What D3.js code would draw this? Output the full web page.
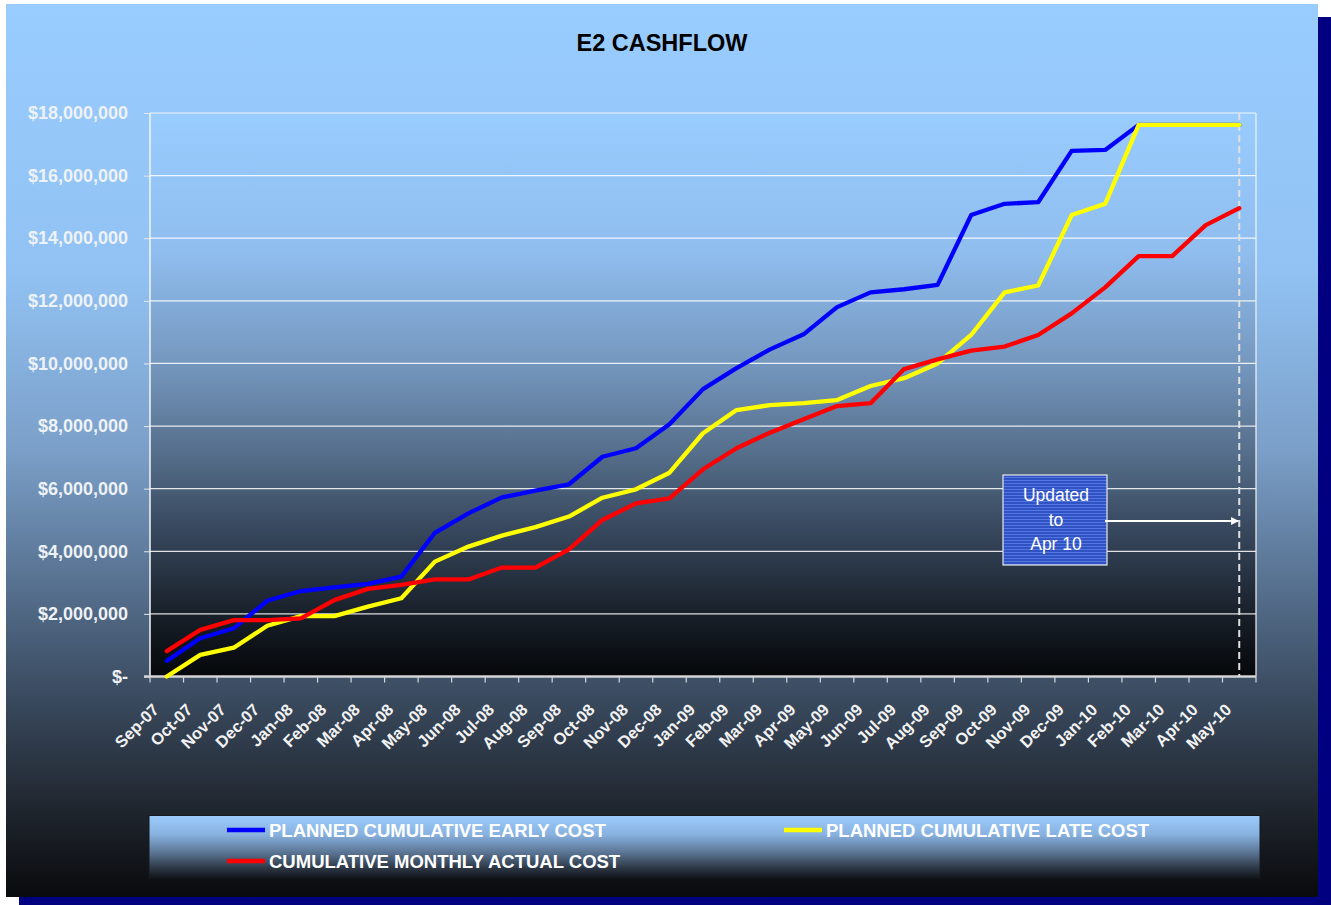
<!DOCTYPE html>
<html>
<head>
<meta charset="utf-8">
<script src="https://cdn.jsdelivr.net/npm/d3@7"></script>
<style>
  body { margin: 0; background: #ffffff; }
  svg { display: block; font-family: "Liberation Sans", Arial, sans-serif; }
</style>
</head>
<body>
<svg id="chart" width="1331" height="905"></svg>
<script>
// chart data
var months = ["Sep-07","Oct-07","Nov-07","Dec-07","Jan-08","Feb-08","Mar-08","Apr-08","May-08","Jun-08",
              "Jul-08","Aug-08","Sep-08","Oct-08","Nov-08","Dec-08","Jan-09","Feb-09","Mar-09","Apr-09",
              "May-09","Jun-09","Jul-09","Aug-09","Sep-09","Oct-09","Nov-09","Dec-09","Jan-10","Feb-10",
              "Mar-10","Apr-10","May-10"];

var earlyCost = [500000,1220000,1540000,2420000,2730000,2850000,2960000,3190000,4590000,5210000,
                 5720000,5940000,6140000,7020000,7290000,8060000,9180000,9850000,10450000,10930000,
                 11800000,12270000,12370000,12510000,14740000,15100000,15150000,16790000,16820000,17620000,
                 17620000,17620000,17620000];

var lateCost = [0,690000,920000,1620000,1930000,1930000,2230000,2500000,3670000,4150000,
                4500000,4770000,5110000,5710000,5980000,6510000,7770000,8510000,8670000,8730000,
                8830000,9280000,9530000,10000000,10910000,12270000,12490000,14740000,15100000,17620000,
                17620000,17620000,17620000];

var actualCost = [810000,1490000,1800000,1800000,1860000,2440000,2800000,2930000,3100000,3100000,
                  3480000,3480000,4060000,5000000,5530000,5690000,6620000,7290000,7790000,8220000,
                  8640000,8730000,9820000,10130000,10410000,10540000,10910000,11600000,12430000,13430000,
                  13430000,14420000,14960000];

var yTicks = [0,2000000,4000000,6000000,8000000,10000000,12000000,14000000,16000000,18000000];

var seriesNames = ["PLANNED CUMULATIVE EARLY COST","PLANNED CUMULATIVE LATE COST","CUMULATIVE MONTHLY ACTUAL COST"];
var seriesColors = ["#0000ff","#ffff00","#ff0000"];
var updatedMonth = "May-10";

var svg = d3.select("#chart");
var defs = svg.append("defs");

// gradients for chart area, plot area and legend
function addGradient(id, stops) {
  var g = defs.append("linearGradient").attr("id", id)
    .attr("x1", 0).attr("y1", 0).attr("x2", 0).attr("y2", 1);
  stops.forEach(function(s) {
    g.append("stop").attr("offset", s[0]).attr("stop-color", s[1]);
  });
}
addGradient("bgGrad", [[0,"#99ccff"],[0.3,"#91c2f3"],[0.5,"#7b9fc8"],[0.62,"#5e7a9b"],[0.76,"#3d4f65"],[0.9,"#20262f"],[1,"#090a0d"]]);
addGradient("plotGrad", [[0,"#99ccff"],[0.25,"#8fbdee"],[0.45,"#7496bd"],[0.6,"#566f8c"],[0.75,"#35455a"],[0.88,"#1a222c"],[1,"#05070a"]]);
addGradient("legendGrad", [[0,"#9bcbfb"],[0.3,"#88b2e0"],[0.6,"#5a7392"],[0.85,"#2b3542"],[1,"#12161b"]]);

var stripe = defs.append("pattern").attr("id", "stripes")
  .attr("width", 8).attr("height", 3).attr("patternUnits", "userSpaceOnUse");
stripe.append("rect").attr("width", 8).attr("height", 3).attr("fill", "#3152c2");
stripe.append("rect").attr("width", 8).attr("height", 1).attr("fill", "#5377e2");

defs.append("marker").attr("id", "arrow")
  .attr("viewBox", "0 0 10 10").attr("refX", 9).attr("refY", 5)
  .attr("markerWidth", 4).attr("markerHeight", 4).attr("orient", "auto")
  .append("path").attr("d", "M0,0 L10,5 L0,10 Z").attr("fill", "#ffffff");

// shadow + chart area
svg.append("rect").attr("x", 19).attr("y", 17).attr("width", 1312).attr("height", 892).attr("fill", "#000080");
svg.append("rect").attr("x", 6).attr("y", 4).attr("width", 1312).attr("height", 893).attr("fill", "url(#bgGrad)");

var plot = {left: 150, right: 1256, top: 113, bottom: 676.5};

var x = d3.scaleBand().domain(months).range([plot.left, plot.right]).padding(0);
var y = d3.scaleLinear().domain([0, 18000000]).range([plot.bottom, plot.top]);
function cx(m) { return x(m) + x.bandwidth() / 2; }

svg.append("rect").attr("x", plot.left).attr("y", plot.top)
  .attr("width", plot.right - plot.left).attr("height", plot.bottom - plot.top)
  .attr("fill", "url(#plotGrad)");

// title
svg.append("text").attr("x", 662).attr("y", 51).attr("text-anchor", "middle")
  .attr("font-size", 23.5).attr("font-weight", "bold").attr("fill", "#000000")
  .text("E2 CASHFLOW");

// y axis with gridlines
var yAxis = d3.axisLeft(y).tickValues(yTicks).tickSize(6).tickPadding(16)
  .tickFormat(function(d) { return d === 0 ? "$-" : "$" + d3.format(",")(d); });
var yg = svg.append("g").attr("transform", "translate(" + plot.left + ",0)").call(yAxis);
yg.select(".domain").remove();
yg.selectAll(".tick line").attr("stroke", "#e6e6e6");
yg.selectAll(".tick text").attr("fill", "#eef2f6").attr("font-size", 18).attr("font-weight", "bold")
  .attr("font-family", "Liberation Sans, Arial, sans-serif");

svg.append("g").selectAll("line").data(yTicks.filter(function(d) { return d > 0; })).enter()
  .append("line")
  .attr("x1", plot.left).attr("x2", plot.right)
  .attr("y1", function(d) { return y(d); }).attr("y2", function(d) { return y(d); })
  .attr("stroke", "#ffffff").attr("stroke-opacity", 0.85).attr("stroke-width", 1.2);

// plot borders
svg.append("line").attr("x1", plot.left).attr("x2", plot.left).attr("y1", plot.top).attr("y2", plot.bottom)
  .attr("stroke", "#f4f4f4").attr("stroke-width", 1.5);
svg.append("line").attr("x1", plot.right).attr("x2", plot.right).attr("y1", plot.top).attr("y2", plot.bottom)
  .attr("stroke", "#f4f4f4").attr("stroke-width", 1.2);

// x axis: ticks between categories, rotated labels at centres
var xAxis = d3.axisBottom(x).tickSize(0).tickPadding(0);
var xg = svg.append("g").attr("transform", "translate(0," + plot.bottom + ")").call(xAxis);
xg.select(".domain").remove();
xg.selectAll(".tick text")
  .attr("fill", "#f2f2f2").attr("font-size", 16.5).attr("font-weight", "bold")
  .attr("font-family", "Liberation Sans, Arial, sans-serif")
  .attr("text-anchor", "end").attr("dy", null)
  .attr("transform", "translate(-11,30) rotate(-45)")
  .attr("y", 0).attr("x", 0).attr("dominant-baseline", "central");

var edges = months.map(function(m) { return x(m); }).concat([plot.right]);
svg.append("g").selectAll("line").data(edges).enter().append("line")
  .attr("x1", function(d) { return d; }).attr("x2", function(d) { return d; })
  .attr("y1", plot.bottom).attr("y2", plot.bottom + 6)
  .attr("stroke", "#d8d8d8").attr("stroke-width", 1.2);
svg.append("line").attr("x1", plot.left - 6).attr("x2", plot.right).attr("y1", plot.bottom).attr("y2", plot.bottom)
  .attr("stroke", "#d4d4d4").attr("stroke-width", 2.5);

// updated marker: dashed line at last month
svg.append("line").attr("x1", cx(updatedMonth)).attr("x2", cx(updatedMonth))
  .attr("y1", plot.top).attr("y2", plot.bottom)
  .attr("stroke", "#e0e0e0").attr("stroke-width", 2).attr("stroke-dasharray", "7,4");

// series lines
var line = d3.line()
  .x(function(d, i) { return cx(months[i]); })
  .y(function(d) { return y(d); });

[earlyCost, lateCost, actualCost].forEach(function(values, i) {
  svg.append("path").datum(values)
    .attr("d", line)
    .attr("fill", "none")
    .attr("stroke", seriesColors[i])
    .attr("stroke-width", 4.3)
    .attr("stroke-linejoin", "round")
    .attr("stroke-linecap", "round");
});

// "Updated to Apr 10" box with arrow
svg.append("rect").attr("x", 1003).attr("y", 475).attr("width", 104).attr("height", 90)
  .attr("fill", "url(#stripes)").attr("stroke", "#e8e8e8").attr("stroke-width", 1.2);
svg.append("text").attr("x", 1056).attr("text-anchor", "middle")
  .attr("font-size", 17.5).attr("fill", "#ffffff")
  .selectAll("tspan").data(["Updated","to","Apr 10"]).enter().append("tspan")
  .attr("x", 1056).attr("y", function(d, i) { return 501 + i * 24.5; })
  .text(function(d) { return d; });
svg.append("line").attr("x1", 1105).attr("x2", cx(updatedMonth) - 1).attr("y1", 521).attr("y2", 521)
  .attr("stroke", "#ffffff").attr("stroke-width", 2).attr("marker-end", "url(#arrow)");

// legend
svg.append("rect").attr("x", 149).attr("y", 815.5).attr("width", 1111).attr("height", 62.5)
  .attr("fill", "url(#legendGrad)").attr("stroke", "#15191f").attr("stroke-width", 1);

var legendPos = [[227, 830], [784, 830], [227, 861]];
var legend = svg.append("g").selectAll("g").data(seriesNames).enter().append("g")
  .attr("transform", function(d, i) { return "translate(" + legendPos[i][0] + "," + legendPos[i][1] + ")"; });
legend.append("line").attr("x1", 0).attr("x2", 38).attr("y1", 0).attr("y2", 0)
  .attr("stroke", function(d, i) { return seriesColors[i]; }).attr("stroke-width", 4.3);
legend.append("text").attr("x", 42).attr("y", 6.5)
  .attr("font-size", 18.5).attr("font-weight", "bold").attr("fill", "#ffffff")
  .text(function(d) { return d; });
</script>
</body>
</html>
